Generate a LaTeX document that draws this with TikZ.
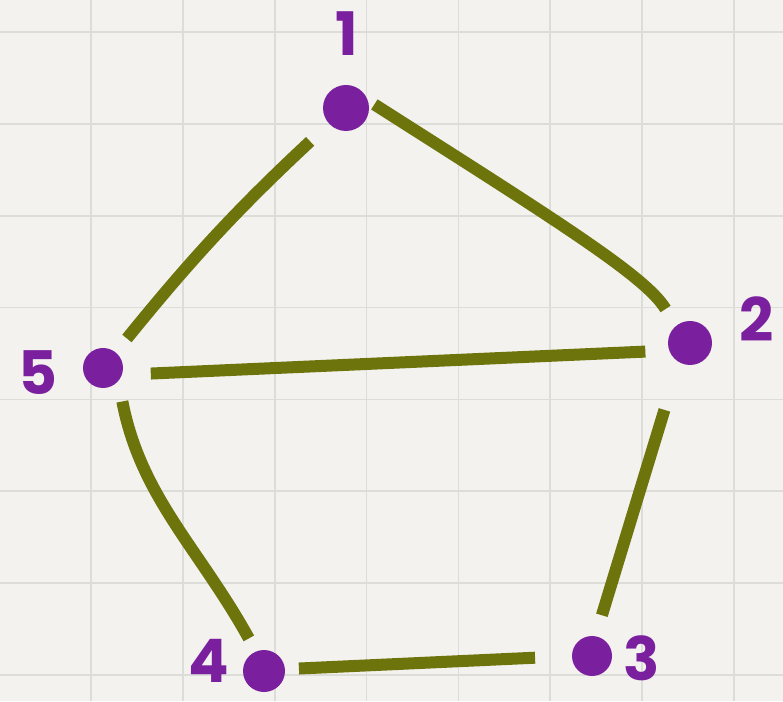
\documentclass[tikz,border=0pt]{standalone}
\usepackage{fontspec}
\setmainfont{Poppins}
\definecolor{paper}{RGB}{243,242,238}
\definecolor{gridc}{RGB}{220,220,217}
\definecolor{edgeolive}{RGB}{110,116,12}
\definecolor{dotpurple}{RGB}{122,32,158}
\begin{document}
\begin{tikzpicture}[x=1pt,y=1pt,
  dot/.style={circle,fill=dotpurple,minimum size=44pt,inner sep=0pt,outer sep=0pt},
  lbl/.style={text=dotpurple,font=\fontsize{60}{60}\selectfont\bfseries,inner sep=0pt},
  edge/.style={draw=edgeolive,line width=12pt,line cap=butt},
  gridline/.style={draw=gridc,line width=1.8pt}]
\fill[paper] (0,0) rectangle (783,701);
\useasboundingbox (0,0) rectangle (783,701);
\foreach \k in {0,...,7} {
  \draw[gridline] ({91+91.85*\k},0) -- ++(0,701);
  \draw[gridline] (0,{669-91.86*\k}) -- ++(783,0);
}
% vertices
\node[dot,minimum size=46pt] (n1) at (346,593) {};
\node[dot] (n2) at (690,358) {};
\node[dot,minimum size=40pt] (n3) at (592,45) {};
\node[dot,minimum size=42pt] (n4) at (264,30) {};
\node[dot,minimum size=40pt] (n5) at (103,333) {};
% labels
\node[lbl] (l1) at (347,667) {1};
\node[lbl] (l2) at (757,382) {2};
\node[lbl] (l3) at (642,43) {3};
\node[lbl] (l4) at (209,40) {4};
\node[lbl] (l5) at (38,328) {5};
% edges
\draw[edge,shorten <=26pt,shorten >=18pt] (n1) to[bend right=4] (n5);
\draw[edge,shorten <=8pt,shorten >=20pt] (n1.20) to[out=-32.5,in=121,out distance=225pt,in distance=58pt] (n2.130);
\draw[edge,shorten <=29pt,shorten >=24pt] (n5.-20) -- (n2.200);
\draw[edge,shorten <=50pt,shorten >=22pt] (n2.240) -- (n3.80);
\draw[edge,shorten <=21pt,shorten >=15pt] (n5.-40) to[out=-79,in=119] (n4.112);
\draw[edge,shorten <=14pt,shorten >=37pt] (n4.5) -- (n3.180);
\end{tikzpicture}
\end{document}
